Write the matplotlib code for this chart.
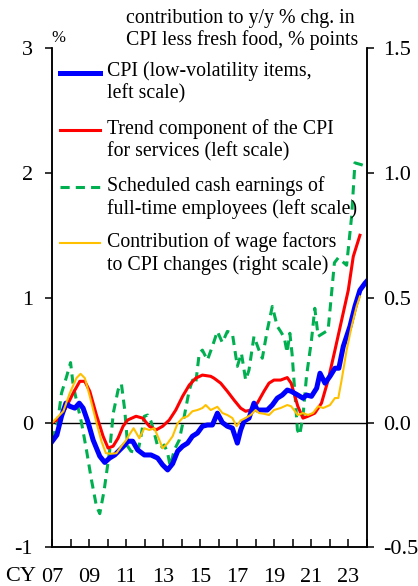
import matplotlib
matplotlib.use("Agg")
import matplotlib.pyplot as plt

plt.rcParams['font.family'] = ['Liberation Serif', 'DejaVu Serif']
plt.rcParams['axes.unicode_minus'] = False

# CPI (low-volatility items), left scale
cpi_t = [2007.0, 2007.25, 2007.5, 2007.74, 2007.95, 2008.22, 2008.46, 2008.67, 2008.94,
         2009.21, 2009.57, 2009.84, 2010.1, 2010.38, 2010.65, 2010.92, 2011.1, 2011.35,
         2011.62, 2011.98, 2012.34, 2012.7, 2012.97, 2013.24, 2013.51, 2013.78, 2014.05,
         2014.32, 2014.58, 2014.85, 2015.12, 2015.39, 2015.66, 2015.93, 2016.2, 2016.47,
         2016.74, 2017.01, 2017.19, 2017.37, 2017.64, 2017.91, 2018.09, 2018.36, 2018.63,
         2018.9, 2019.17, 2019.44, 2019.71, 2019.92, 2020.28, 2020.56, 2020.75, 2021.02,
         2021.3, 2021.48, 2021.75, 2022.02, 2022.29, 2022.5, 2022.74, 2023.1, 2023.37,
         2023.64, 2023.91, 2024.0]
cpi_v = [-0.15, -0.10, 0.05, 0.155, 0.13, 0.115, 0.155, 0.115, 0.0,
         -0.14, -0.27, -0.32, -0.285, -0.26, -0.22, -0.18, -0.15, -0.15,
         -0.22, -0.26, -0.26, -0.285, -0.34, -0.38, -0.33, -0.23, -0.19,
         -0.165, -0.11, -0.085, -0.03, -0.02, -0.02, 0.075, 0.0, -0.03,
         -0.045, -0.165, -0.06, 0.01, 0.035, 0.155, 0.10, 0.10, 0.10,
         0.14, 0.195, 0.22, 0.26, 0.25, 0.22, 0.195, 0.22, 0.21,
         0.275, 0.395, 0.315, 0.37, 0.435, 0.435, 0.61, 0.77, 0.93,
         1.06, 1.115, 1.13]

# trend component of the CPI for services, left scale
svc_t = [2007.0, 2007.42, 2007.78, 2008.13, 2008.49, 2008.76, 2009.03, 2009.39, 2009.75,
         2010.02, 2010.29, 2010.56, 2010.83, 2011.08, 2011.53, 2011.89, 2012.25, 2012.61,
         2012.97, 2013.33, 2013.68, 2014.05, 2014.41, 2014.76, 2015.12, 2015.57, 2015.75,
         2016.11, 2016.47, 2016.83, 2017.19, 2017.46, 2017.73, 2018.09, 2018.45, 2018.72,
         2018.99, 2019.35, 2019.71, 2019.92, 2020.28, 2020.56, 2020.83, 2021.2, 2021.56,
         2021.92, 2022.29, 2022.65, 2023.01, 2023.28, 2023.64]
svc_v = [0.0, 0.035, 0.13, 0.235, 0.33, 0.33, 0.25, 0.06, -0.11,
         -0.205, -0.19, -0.125, -0.03, 0.02, 0.05, 0.035, -0.03, -0.06,
         -0.03, 0.02, 0.10, 0.21, 0.30, 0.355, 0.38, 0.37, 0.355,
         0.315, 0.25, 0.18, 0.115, 0.09, 0.10, 0.155, 0.25, 0.315,
         0.34, 0.34, 0.36, 0.315, 0.13, 0.035, 0.05, 0.075, 0.155,
         0.34, 0.58, 0.82, 1.06, 1.33, 1.50]

# scheduled cash earnings of full-time employees, left scale
wage_t = [2007.0, 2007.3, 2007.5, 2007.78, 2007.99, 2008.13, 2008.35, 2008.58, 2008.85,
          2009.12, 2009.39, 2009.57, 2009.8, 2010.11, 2010.3, 2010.56, 2010.74, 2010.92,
          2011.08, 2011.26, 2011.62, 2011.8, 2011.98, 2012.16, 2012.34, 2012.52, 2012.7,
          2012.88, 2013.06, 2013.24, 2013.38, 2013.6, 2013.87, 2014.14, 2014.41, 2014.59,
          2014.76, 2014.95, 2015.12, 2015.39, 2015.66, 2015.93, 2016.2, 2016.47, 2016.74,
          2017.01, 2017.23, 2017.46, 2017.64, 2017.91, 2018.18, 2018.36, 2018.63, 2018.9,
          2019.17, 2019.35, 2019.55, 2019.7, 2019.85, 2019.97, 2020.11, 2020.26, 2020.38,
          2020.56, 2020.75, 2021.02, 2021.2, 2021.38, 2021.65, 2021.92, 2022.26, 2022.47,
          2022.92, 2023.19, 2023.37, 2023.73, 2023.99]
wage_v = [-0.14, 0.01, 0.235, 0.37, 0.48, 0.30, 0.15, 0.0, -0.22,
          -0.46, -0.67, -0.73, -0.55, -0.22, 0.075, 0.26, 0.31, 0.10,
          -0.19, -0.23, -0.245, -0.11, 0.05, 0.06, 0.01, -0.085, -0.19,
          -0.205, -0.18, -0.245, -0.35, -0.22, -0.14, 0.05, 0.26, 0.34,
          0.315, 0.555, 0.58, 0.50, 0.61, 0.73, 0.64, 0.73, 0.715,
          0.45, 0.555, 0.34, 0.42, 0.69, 0.58, 0.515, 0.74, 0.93,
          0.77, 0.73, 0.68, 0.56, 0.715, 0.55, 0.26, -0.06, -0.10,
          0.05, 0.37, 0.66, 0.915, 0.69, 0.715, 0.74, 1.28, 1.32,
          1.26, 1.65, 2.08, 2.065, 2.05]

# contribution of wage factors to CPI changes, right scale
contrib_t = [2007.0, 2007.6, 2007.95, 2008.31, 2008.53, 2008.76, 2009.03, 2009.39, 2009.66,
             2009.9, 2010.2, 2010.47, 2010.74, 2011.0, 2011.2, 2011.4, 2011.71, 2011.98,
             2012.25, 2012.52, 2012.79, 2012.97, 2013.24, 2013.51, 2013.78, 2014.05, 2014.32,
             2014.58, 2014.85, 2015.12, 2015.3, 2015.57, 2015.93, 2016.2, 2016.47, 2016.74,
             2016.97, 2017.19, 2017.46, 2017.73, 2018.0, 2018.18, 2018.45, 2018.72, 2018.99,
             2019.35, 2019.71, 2019.92, 2020.28, 2020.56, 2020.83, 2021.1, 2021.38, 2021.65,
             2022.02, 2022.29, 2022.47, 2022.65, 2022.92, 2023.19, 2023.46, 2023.64]
contrib_v = [0.0, 0.045, 0.118, 0.178, 0.195, 0.178, 0.105, 0.0, -0.075,
             -0.123, -0.125, -0.123, -0.095, -0.07, -0.045, -0.023, -0.063, -0.023,
             -0.03, -0.023, -0.07, -0.103, -0.083, -0.055, -0.003, 0.018, 0.025,
             0.045, 0.05, 0.058, 0.07, 0.05, 0.063, 0.038, 0.03, 0.018,
             -0.015, 0.008, 0.018, 0.03, 0.05, 0.038, 0.035, 0.03, 0.05,
             0.058, 0.07, 0.065, 0.03, 0.038, 0.03, 0.038, 0.065, 0.058,
             0.07, 0.098, 0.098, 0.17, 0.29, 0.385, 0.465, 0.505]

labels = ["CPI (low-volatility items,\nleft scale)",
          "Trend component of the CPI\nfor services (left scale)",
          "Scheduled cash earnings of\nfull-time employees (left scale)",
          "Contribution of wage factors\nto CPI changes (right scale)"]

year_ticks = list(range(2007, 2025))
year_labels = ["07", "09", "11", "13", "15", "17", "19", "21", "23"]

blue, red, green, gold = "#0000FF", "#FF0000", "#00B050", "#FFC000"

fig = plt.figure(figsize=(4.18, 5.86), dpi=100)
ax = fig.add_axes([0.125, 0.066, 0.752, 0.852])
ax2 = ax.twinx()

ax.axhline(0, color="black", lw=1.0, zorder=1)
ax.plot(wage_t, wage_v, color=green, lw=2.2, dashes=(3, 2), zorder=2)
ax.plot(svc_t, svc_v, color=red, lw=2.2, zorder=3)
ax.plot(cpi_t, cpi_v, color=blue, lw=3.6, zorder=4)
ax2.plot(contrib_t, contrib_v, color=gold, lw=1.5)

ax.set_xlim(2007, 2024)
ax.set_ylim(-1, 3)
ax2.set_ylim(-0.5, 1.5)
ax.set_yticks([-1, 0, 1, 2, 3])
ax.set_yticklabels(["-1", "0", "1", "2", "3"])
ax2.set_yticks([-0.5, 0, 0.5, 1.0, 1.5])
ax2.set_yticklabels(["-0.5", "0.0", "0.5", "1.0", "1.5"])
ax.set_xticks(year_ticks[::2])
ax.set_xticklabels(year_labels)
ax.set_xticks(year_ticks, minor=True)

for a in (ax, ax2):
    a.spines["top"].set_visible(False)
    for s in a.spines.values():
        s.set_linewidth(1.1)
ax.tick_params(axis="y", direction="out", length=5, width=1.1, labelsize=16, pad=9)
ax2.tick_params(axis="y", direction="out", length=5, width=1.1, labelsize=16, pad=7)
ax.tick_params(axis="x", which="both", direction="in", length=6, width=1.1,
               labelsize=16, pad=15)

ax.text(-0.1, -0.0575, "CY", transform=ax.transAxes, fontsize=16,
        ha="center", va="center")

# legend drawn by hand so the line sits on the first text row
handle_y = [0.951, 0.836, 0.722, 0.610]
styles = [dict(color=blue, lw=3.6), dict(color=red, lw=2.2),
          dict(color=green, lw=2.2, dashes=(3, 2)), dict(color=gold, lw=1.5)]
for y, lab, st in zip(handle_y, labels, styles):
    ax2.plot([0.025, 0.152], [y, y], transform=ax2.transAxes, clip_on=False, **st)
    ax2.text(0.174, y + 0.022, lab, transform=ax2.transAxes, fontsize=14.3,
             ha="left", va="top", linespacing=1.22)

fig.text(0.124, 0.935, "%", fontsize=12, ha="left", va="center")
fig.text(0.301, 0.960, "contribution to y/y % chg. in", fontsize=14.3,
         ha="left", va="baseline")
fig.text(0.301, 0.923, "CPI less fresh food, % points", fontsize=14.3,
         ha="left", va="baseline")

fig.savefig("out.png", dpi=100)
